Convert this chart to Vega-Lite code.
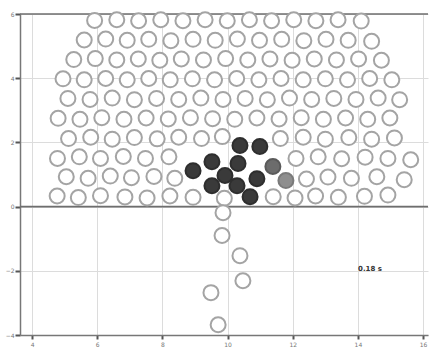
{
  "$schema": "https://vega.github.io/schema/vega-lite/v6.json",
  "width": 408,
  "height": 321,
  "autosize": {"type": "none"},
  "padding": {"left": 20, "top": 14, "right": 2, "bottom": 15},
  "background": "white",
  "config": {"view": {"stroke": null}},
  "datasets": {
    "lines": [{"y": 0}, {"y": 6}],
    "label": [{"x": 14.37, "y": -1.93, "t": "0.18 s"}],
    "discs": [
      {"x":4.77,"y":0.33,"k":"w"},{"x":5.42,"y":0.28,"k":"w"},{"x":6.1,"y":0.34,"k":"w"},{"x":6.85,"y":0.3,"k":"w"},{"x":7.53,"y":0.27,"k":"w"},{"x":8.23,"y":0.33,"k":"w"},{"x":8.94,"y":0.29,"k":"w"},{"x":9.9,"y":0.26,"k":"w"},{"x":11.4,"y":0.31,"k":"w"},{"x":12.07,"y":0.27,"k":"w"},{"x":12.7,"y":0.33,"k":"w"},{"x":13.4,"y":0.29,"k":"w"},{"x":14.2,"y":0.32,"k":"w"},{"x":14.92,"y":0.36,"k":"w"},
      {"x":5.05,"y":0.93,"k":"w"},{"x":5.72,"y":0.88,"k":"w"},{"x":6.4,"y":0.95,"k":"w"},{"x":7.05,"y":0.9,"k":"w"},{"x":7.74,"y":0.94,"k":"w"},{"x":8.38,"y":0.88,"k":"w"},{"x":12.42,"y":0.86,"k":"w"},{"x":13.08,"y":0.92,"k":"w"},{"x":13.8,"y":0.88,"k":"w"},{"x":14.58,"y":0.93,"k":"w"},{"x":15.42,"y":0.84,"k":"w"},
      {"x":4.78,"y":1.5,"k":"w"},{"x":5.45,"y":1.55,"k":"w"},{"x":6.1,"y":1.5,"k":"w"},{"x":6.8,"y":1.56,"k":"w"},{"x":7.48,"y":1.5,"k":"w"},{"x":8.2,"y":1.55,"k":"w"},{"x":12.1,"y":1.5,"k":"w"},{"x":12.78,"y":1.55,"k":"w"},{"x":13.5,"y":1.49,"k":"w"},{"x":14.22,"y":1.54,"k":"w"},{"x":14.92,"y":1.5,"k":"w"},{"x":15.62,"y":1.46,"k":"w"},
      {"x":5.12,"y":2.12,"k":"w"},{"x":5.8,"y":2.16,"k":"w"},{"x":6.46,"y":2.1,"k":"w"},{"x":7.14,"y":2.15,"k":"w"},{"x":7.84,"y":2.11,"k":"w"},{"x":8.5,"y":2.16,"k":"w"},{"x":9.2,"y":2.12,"k":"w"},{"x":9.84,"y":2.18,"k":"w"},{"x":11.62,"y":2.12,"k":"w"},{"x":12.32,"y":2.16,"k":"w"},{"x":13.0,"y":2.1,"k":"w"},{"x":13.72,"y":2.15,"k":"w"},{"x":14.42,"y":2.1,"k":"w"},{"x":15.12,"y":2.14,"k":"w"},
      {"x":4.8,"y":2.75,"k":"w"},{"x":5.47,"y":2.72,"k":"w"},{"x":6.14,"y":2.77,"k":"w"},{"x":6.82,"y":2.72,"k":"w"},{"x":7.5,"y":2.76,"k":"w"},{"x":8.18,"y":2.73,"k":"w"},{"x":8.86,"y":2.77,"k":"w"},{"x":9.54,"y":2.74,"k":"w"},{"x":10.22,"y":2.72,"k":"w"},{"x":10.9,"y":2.76,"k":"w"},{"x":11.58,"y":2.73,"k":"w"},{"x":12.26,"y":2.77,"k":"w"},{"x":12.94,"y":2.72,"k":"w"},{"x":13.62,"y":2.76,"k":"w"},{"x":14.3,"y":2.72,"k":"w"},{"x":14.98,"y":2.76,"k":"w"},
      {"x":5.1,"y":3.37,"k":"w"},{"x":5.78,"y":3.34,"k":"w"},{"x":6.46,"y":3.38,"k":"w"},{"x":7.14,"y":3.33,"k":"w"},{"x":7.82,"y":3.37,"k":"w"},{"x":8.5,"y":3.34,"k":"w"},{"x":9.18,"y":3.38,"k":"w"},{"x":9.86,"y":3.34,"k":"w"},{"x":10.54,"y":3.37,"k":"w"},{"x":11.22,"y":3.33,"k":"w"},{"x":11.9,"y":3.38,"k":"w"},{"x":12.58,"y":3.34,"k":"w"},{"x":13.26,"y":3.37,"k":"w"},{"x":13.94,"y":3.34,"k":"w"},{"x":14.62,"y":3.38,"k":"w"},{"x":15.28,"y":3.33,"k":"w"},
      {"x":4.95,"y":3.98,"k":"w"},{"x":5.6,"y":3.95,"k":"w"},{"x":6.26,"y":3.99,"k":"w"},{"x":6.92,"y":3.95,"k":"w"},{"x":7.58,"y":3.99,"k":"w"},{"x":8.24,"y":3.95,"k":"w"},{"x":8.92,"y":3.98,"k":"w"},{"x":9.6,"y":3.95,"k":"w"},{"x":10.28,"y":3.99,"k":"w"},{"x":10.96,"y":3.95,"k":"w"},{"x":11.64,"y":3.99,"k":"w"},{"x":12.32,"y":3.95,"k":"w"},{"x":13.0,"y":3.98,"k":"w"},{"x":13.68,"y":3.95,"k":"w"},{"x":14.36,"y":3.99,"k":"w"},{"x":15.04,"y":3.95,"k":"w"},
      {"x":5.28,"y":4.58,"k":"w"},{"x":5.94,"y":4.61,"k":"w"},{"x":6.6,"y":4.57,"k":"w"},{"x":7.26,"y":4.6,"k":"w"},{"x":7.92,"y":4.56,"k":"w"},{"x":8.58,"y":4.6,"k":"w"},{"x":9.26,"y":4.57,"k":"w"},{"x":9.94,"y":4.61,"k":"w"},{"x":10.62,"y":4.57,"k":"w"},{"x":11.3,"y":4.6,"k":"w"},{"x":11.98,"y":4.56,"k":"w"},{"x":12.66,"y":4.6,"k":"w"},{"x":13.34,"y":4.57,"k":"w"},{"x":14.02,"y":4.6,"k":"w"},{"x":14.72,"y":4.56,"k":"w"},
      {"x":5.6,"y":5.19,"k":"w"},{"x":6.26,"y":5.22,"k":"w"},{"x":6.92,"y":5.18,"k":"w"},{"x":7.58,"y":5.21,"k":"w"},{"x":8.26,"y":5.17,"k":"w"},{"x":8.94,"y":5.21,"k":"w"},{"x":9.62,"y":5.18,"k":"w"},{"x":10.3,"y":5.22,"k":"w"},{"x":10.98,"y":5.18,"k":"w"},{"x":11.66,"y":5.21,"k":"w"},{"x":12.34,"y":5.17,"k":"w"},{"x":13.02,"y":5.21,"k":"w"},{"x":13.7,"y":5.18,"k":"w"},{"x":14.42,"y":5.15,"k":"w"},
      {"x":5.92,"y":5.8,"k":"w"},{"x":6.6,"y":5.82,"k":"w"},{"x":7.27,"y":5.79,"k":"w"},{"x":7.95,"y":5.82,"k":"w"},{"x":8.63,"y":5.79,"k":"w"},{"x":9.31,"y":5.82,"k":"w"},{"x":9.99,"y":5.79,"k":"w"},{"x":10.67,"y":5.82,"k":"w"},{"x":11.35,"y":5.79,"k":"w"},{"x":12.03,"y":5.82,"k":"w"},{"x":12.71,"y":5.79,"k":"w"},{"x":13.39,"y":5.82,"k":"w"},{"x":14.1,"y":5.78,"k":"w"},
      {"x":9.86,"y":-0.19,"k":"w"},{"x":9.83,"y":-0.9,"k":"w"},{"x":10.38,"y":-1.53,"k":"w"},{"x":10.47,"y":-2.31,"k":"w"},{"x":9.49,"y":-2.68,"k":"w"},{"x":9.71,"y":-3.68,"k":"w"},
      {"x":10.38,"y":1.9,"k":"d"},{"x":10.99,"y":1.87,"k":"d"},{"x":8.94,"y":1.12,"k":"d"},{"x":9.52,"y":1.4,"k":"d"},{"x":10.32,"y":1.34,"k":"d"},{"x":9.92,"y":0.97,"k":"d"},{"x":9.52,"y":0.65,"k":"d"},{"x":10.29,"y":0.65,"k":"d"},{"x":10.9,"y":0.87,"k":"d"},{"x":10.69,"y":0.31,"k":"d"},
      {"x":11.39,"y":1.25,"k":"g"},{"x":11.79,"y":0.81,"k":"l"}
    ]
  },
  "layer": [
    {
      "data": {"name": "lines"},
      "mark": {"type": "rule", "color": "#6e6e6e", "strokeWidth": 1.6},
      "encoding": {
        "y": {
          "field": "y", "type": "quantitative",
          "scale": {"domain": [-4, 6], "nice": false, "zero": false},
          "axis": {"values": [-4,-3,-2,-1,0,1,2,3,4,5,6], "title": null, "grid": true, "gridColor": "#dcdcdc", "gridWidth": 1, "domainColor": "#777", "domainWidth": 1.5, "tickColor": "#555", "tickSize": 5, "tickWidth": 2, "labelFontSize": 6, "labelColor": "#777", "labelPadding": 1, "labelFont": "DejaVu Sans"}
        }
      }
    },
    {
      "data": {"name": "discs"},
      "mark": {"type": "point", "shape": "circle", "filled": true, "size": 225, "strokeWidth": 2, "opacity": 1},
      "encoding": {
        "x": {
          "field": "x", "type": "quantitative",
          "scale": {"domain": [3.63, 16.15], "nice": false, "zero": false},
          "axis": {"values": [4,6,8,10,12,14,16], "title": null, "grid": true, "gridColor": "#dcdcdc", "gridWidth": 1, "domainColor": "#777", "domainWidth": 1.5, "tickColor": "#555", "tickSize": 4, "tickWidth": 2, "labelFontSize": 6, "labelColor": "#777", "labelPadding": 2, "labelFont": "DejaVu Sans"}
        },
        "y": {"field": "y", "type": "quantitative"},
        "fill": {"field": "k", "type": "nominal", "scale": {"domain": ["w","d","g","l"], "range": ["#ffffff","#3a3a3a","#6c6c6c","#8e8e8e"]}, "legend": null},
        "stroke": {"field": "k", "type": "nominal", "scale": {"domain": ["w","d","g","l"], "range": ["#a4a4a4","#2e2e2e","#5a5a5a","#7a7a7a"]}, "legend": null}
      }
    },
    {
      "data": {"name": "label"},
      "mark": {"type": "text", "fontSize": 7, "fill": "#333", "font": "DejaVu Sans", "fontWeight": "bold"},
      "encoding": {
        "x": {"field": "x", "type": "quantitative"},
        "y": {"field": "y", "type": "quantitative"},
        "text": {"field": "t"}
      }
    }
  ]
}
